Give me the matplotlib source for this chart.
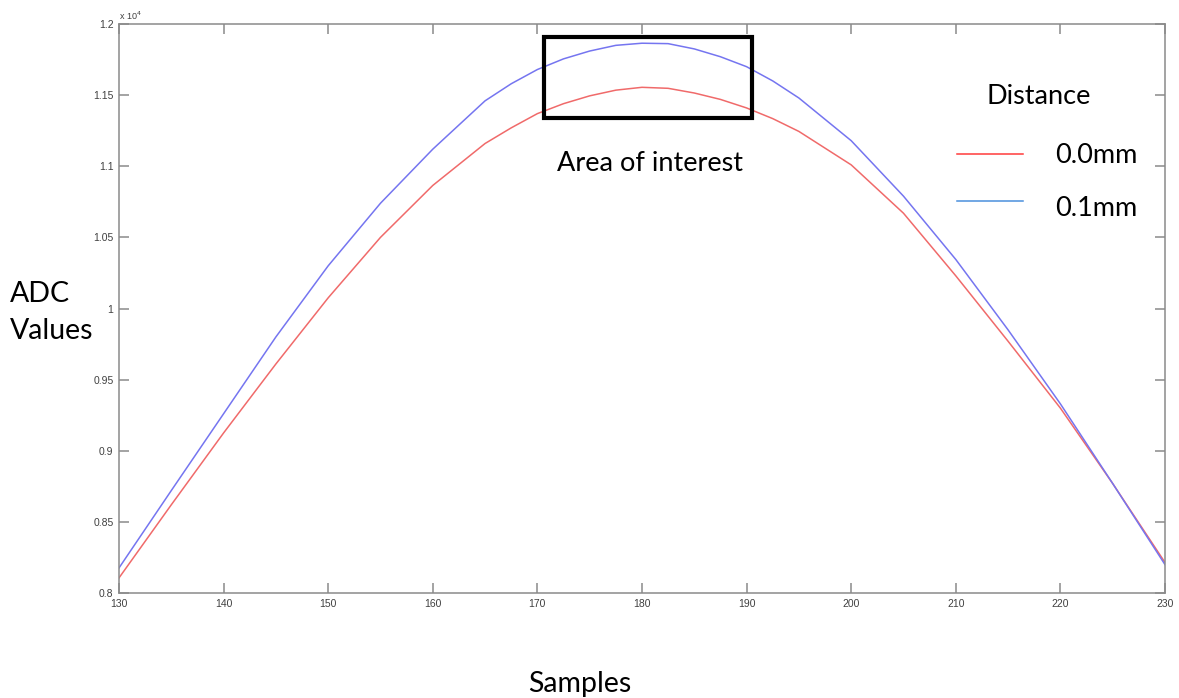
import matplotlib
matplotlib.use("Agg")
import matplotlib.pyplot as plt
from matplotlib.patches import Rectangle
from matplotlib.ticker import FuncFormatter, MultipleLocator

# samples (ADC counts)
samples = [130, 135, 140, 145, 150, 155, 160, 165, 167.5, 170, 172.5, 175, 177.5, 180,
           182.5, 185, 187.5, 190, 192.5, 195, 200, 205, 210, 215, 220, 225, 230]
adc_00mm = [8106, 8620, 9125, 9610, 10075, 10500, 10865, 11160, 11270, 11370, 11440,
            11495, 11535, 11555, 11548, 11515, 11470, 11410, 11335, 11245, 11010,
            10670, 10230, 9770, 9300, 8770, 8215]
adc_01mm = [8176, 8720, 9260, 9800, 10300, 10740, 11120, 11460, 11580, 11680, 11755,
            11810, 11850, 11865, 11862, 11825, 11770, 11700, 11600, 11480, 11180,
            10790, 10345, 9850, 9330, 8770, 8200]

x_ticks = list(range(130, 231, 10))
legend_labels = ["0.0mm", "0.1mm"]

tick_font = "Liberation Sans"
note_font = "Lato"
W, H = 1179, 698

fig = plt.figure(figsize=(W / 100, H / 100), dpi=100)
ax = fig.add_axes([0.1009, 0.1504, 0.8872, 0.8152])

ax.plot(samples, adc_00mm, color="#f06a6a", lw=1.1)
ax.plot(samples, adc_01mm, color="#7575f0", lw=1.1)

ax.set_xlim(130, 230)
ax.set_ylim(8000, 12000)
ax.set_xticks(x_ticks)
ax.yaxis.set_major_locator(MultipleLocator(500))
ax.yaxis.set_major_formatter(FuncFormatter(lambda v, p: "%g" % (v / 1e4)))

for s in ax.spines.values():
    s.set_color("#8a8a8a")
    s.set_linewidth(1.1)
ax.tick_params(direction="in", length=7, width=1.1, color="#8a8a8a",
               top=True, right=True, labelsize=7.5, labelcolor="#404040", pad=4)
for lab in ax.get_xticklabels() + ax.get_yticklabels():
    lab.set_fontfamily(tick_font)

ax.text(0.0, 1.004, r"x 10$^4$", transform=ax.transAxes, fontsize=6.5,
        color="#404040", family=tick_font, ha="left", va="bottom")

# area of interest box
ax.add_patch(Rectangle((170.6, 11338), 19.95, 570, fill=False,
                       edgecolor="black", lw=3, zorder=5))


def ftext(px, py, s, size, ha="left"):
    fig.text(px / W, 1 - py / H, s, fontsize=size, family=note_font,
             ha=ha, va="baseline", color="black")


ftext(650, 171, "Area of interest", 19.5, ha="center")

# legend drawn by hand
ftext(1039, 104, "Distance", 19.5, ha="center")
fig.add_artist(plt.Line2D([957 / W, 1023 / W], [1 - 154 / H, 1 - 154 / H],
                          color="#ff3b3b", lw=1.1))
fig.add_artist(plt.Line2D([957 / W, 1023 / W], [1 - 201 / H, 1 - 201 / H],
                          color="#4a8fdc", lw=1.1))
ftext(1055, 163, legend_labels[0], 19.5)
ftext(1055, 216, legend_labels[1], 19.5)

ftext(10, 302, "ADC", 20.5)
ftext(10, 339, "Values", 20.5)
ftext(580, 692, "Samples", 20.5, ha="center")

plt.savefig("out.png", dpi=100)
